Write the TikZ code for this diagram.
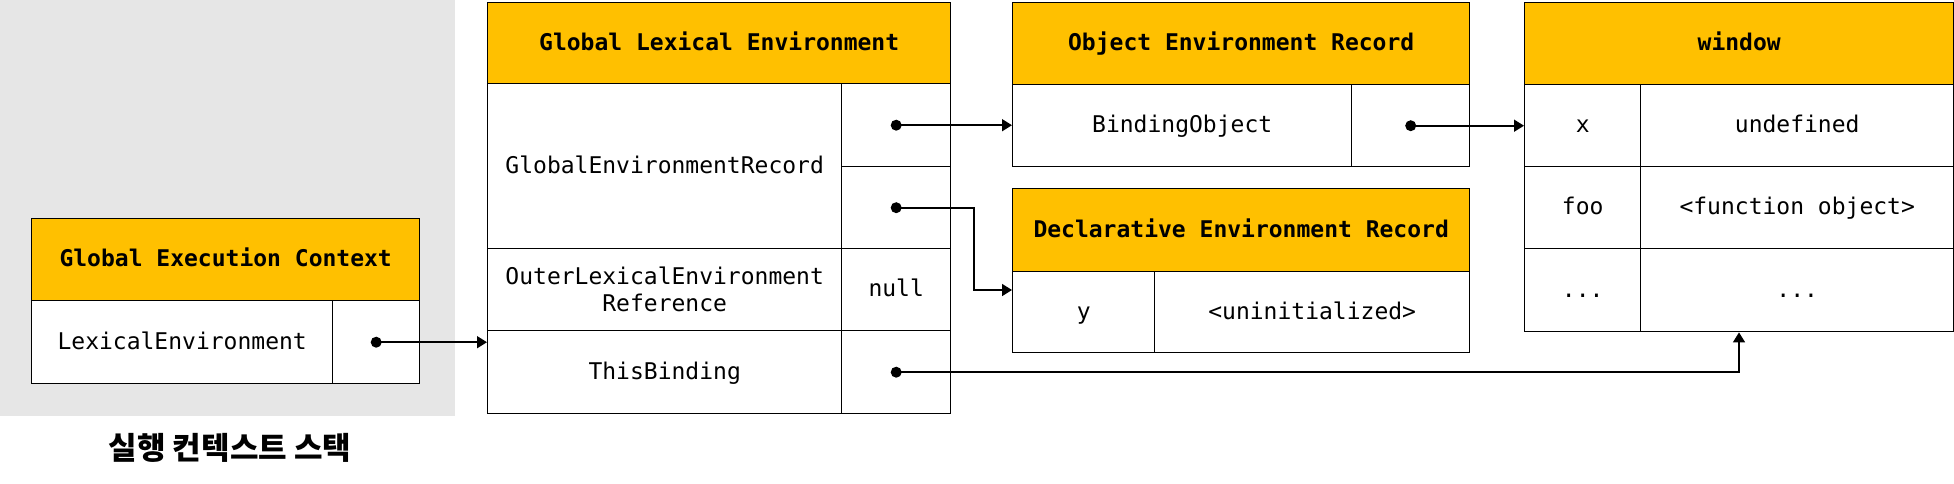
\documentclass[tikz,border=0pt]{standalone}
\usepackage{fontspec}
\setmonofont{DejaVu Sans Mono}
\newfontfamily\krfont{Noto Sans CJK KR}
\usetikzlibrary{arrows.meta}

\definecolor{headyellow}{RGB}{255,192,0}
\definecolor{stackgray}{RGB}{230,230,230}

\tikzset{
    cellsize/.style 2 args={minimum width=#1*0.5pt, minimum height=#2*0.5pt},
    cell/.style={draw, fill=white, line width=0.7pt, anchor=north west, inner sep=0pt,
        align=center, text height=8.5pt, text depth=1.5pt,
        font=\ttfamily\fontsize{11.5}{13.5}\selectfont},
    head/.style={cell, fill=headyellow,
        font=\ttfamily\bfseries\fontsize{11.5}{13.5}\selectfont},
    dot/.style={circle, fill=black, inner sep=0pt, minimum size=5.5pt},
    link/.style={line width=0.8pt, -{Triangle[length=5pt,width=6pt]}}
}

\begin{document}
\begin{tikzpicture}[x=0.5pt,y=-0.5pt]
    \useasboundingbox (0,0) rectangle (1954,483);

    % execution context stack
    \fill[stackgray] (0,0) rectangle (455,416);
    \node[font={\krfont\bfseries\fontsize{15.5}{18}\selectfont}] (stacklabel) at (230,448) {실행 컨텍스트 스택};

    \node[head, cellsize={388}{82}] (gec) at (31,218) {Global Execution Context};
    \node[cell, cellsize={301}{83}] (geckey) at (31,300) {LexicalEnvironment};
    \node[cell, cellsize={87}{83}] (gecval) at (332,300) {};

    % global lexical environment
    \node[head, cellsize={463}{81}] (gle) at (487,2) {Global Lexical Environment};
    \node[cell, cellsize={354}{165}] (glerec) at (487,83) {GlobalEnvironmentRecord};
    \node[cell, cellsize={109}{83}] (glerecA) at (841,83) {};
    \node[cell, cellsize={109}{82}] (glerecB) at (841,166) {};
    \node[cell, cellsize={354}{82}, text height={}, text depth={}] (gleouter) at (487,248) {OuterLexicalEnvironment\\Reference};
    \node[cell, cellsize={109}{82}] (glenull) at (841,248) {null};
    \node[cell, cellsize={354}{83}] (glethis) at (487,330) {ThisBinding};
    \node[cell, cellsize={109}{83}] (glethisval) at (841,330) {};

    % environment records
    \node[head, cellsize={457}{82}] (oer) at (1012,2) {Object Environment Record};
    \node[cell, cellsize={339}{82}] (oerkey) at (1012,84) {BindingObject};
    \node[cell, cellsize={118}{82}] (oerval) at (1351,84) {};

    \node[head, cellsize={457}{83}] (der) at (1012,188) {Declarative Environment Record};
    \node[cell, cellsize={142}{81}] (derkey) at (1012,271) {y};
    \node[cell, cellsize={315}{81}] (derval) at (1154,271) {<uninitialized>};

    % window object
    \node[head, cellsize={429}{82}] (win) at (1524,2) {window};
    \node[cell, cellsize={116}{82}] (winx) at (1524,84) {x};
    \node[cell, cellsize={313}{82}] (winxval) at (1640,84) {undefined};
    \node[cell, cellsize={116}{82}] (winfoo) at (1524,166) {foo};
    \node[cell, cellsize={313}{82}] (winfooval) at (1640,166) {<function object>};
    \node[cell, cellsize={116}{83}] (winetc) at (1524,248) {...};
    \node[cell, cellsize={313}{83}] (winetcval) at (1640,248) {...};

    % references
    \node[dot] (gecdot) at (gecval) {};
    \node[dot] (recdotA) at (glerecA) {};
    \node[dot] (recdotB) at (glerecB) {};
    \node[dot] (thisdot) at (glethisval) {};
    \node[dot] (objdot) at (oerval) {};

    \coordinate (dertip) at ([yshift=-9.5pt]derkey.north west);
    \coordinate (winbot) at ([xshift=49.5pt]winetcval.south west);

    \draw[link] (gecdot.center) -- (gecdot.center -| glethis.west);
    \draw[link] (recdotA.center) -- (recdotA.center -| oerkey.west);
    \draw[link] (recdotB.center) -- ++(78,0) |- (dertip);
    \draw[link] (thisdot.center) -| (winbot);
    \draw[link] (objdot.center) -- (objdot.center -| winx.west);
\end{tikzpicture}
\end{document}
